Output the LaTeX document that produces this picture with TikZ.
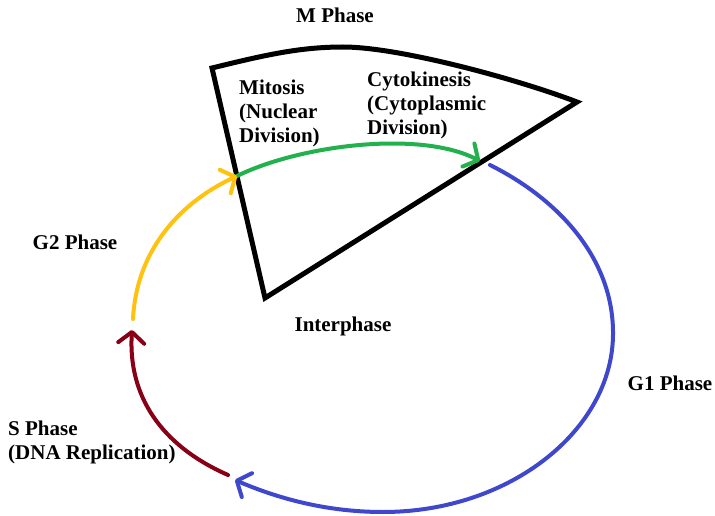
\documentclass[tikz,border=0pt]{standalone}
\usepackage{fontspec}
\setmainfont{Liberation Serif}
\usetikzlibrary{arrows.meta}
\definecolor{paintgreen}{RGB}{34,177,76}
\definecolor{paintgold}{RGB}{255,194,14}
\definecolor{paintblue}{RGB}{63,72,204}
\definecolor{paintbrown}{RGB}{136,0,21}

\begin{document}
\begin{tikzpicture}[x=1pt, y=-1pt,
    lbl/.style={font=\bfseries\fontsize{21}{24}\selectfont, inner sep=0pt},
    phasearc/.style={line width=4pt, line cap=round, -{Straight Barb[round,length=11pt,width=26pt]}}]
    \useasboundingbox (0,0) rectangle (715,516);

    % M Phase wedge
    \coordinate (mleft) at (212,68);
    \coordinate (mtop) at (343,47);
    \coordinate (mright) at (577,102);
    \coordinate (mbottom) at (265,298);
    \draw[line width=5pt, line join=miter] (mleft) .. controls (265,55) and (300,47) .. (mtop)
        .. controls (400,47) and (520,80) .. (mright) -- (mbottom) -- cycle;

    % Points on the cycle
    \coordinate (g2end) at (237,176);
    \coordinate (mend) at (480,161);
    \coordinate (g1start) at (490,165);
    \coordinate (g1side) at (613,335);
    \coordinate (g1low) at (383,512);
    \coordinate (g1end) at (235,480);
    \coordinate (sstart) at (228,475);
    \coordinate (send) at (132,330);
    \coordinate (g2start) at (133,319);

    % Arcs
    \draw[phasearc, paintgreen] (g2end) .. controls (300,145) and (420,130) .. (mend);
    \draw[phasearc, paintblue] (g1start) .. controls (560,200) and (614,260) .. (g1side)
        .. controls (612,430) and (510,512) .. (g1low) .. controls (320,512) and (270,495) .. (g1end);
    \draw[phasearc, paintbrown] (sstart) .. controls (160,445) and (128,395) .. (send);
    \draw[phasearc, paintgold] (g2start) .. controls (136,255) and (175,205) .. (g2end);

    % Labels
    \node[lbl] (mphase) at (335,15) {M Phase};
    \node[lbl, align=left, anchor=west] (mitosis) at (239,113) {Mitosis\\(Nuclear\\Division)};
    \node[lbl, align=left, anchor=west] (cytokinesis) at (367,105) {Cytokinesis\\(Cytoplasmic\\Division)};
    \node[lbl] (g2phase) at (75,242) {G2 Phase};
    \node[lbl] (interphase) at (343,326) {Interphase};
    \node[lbl] (g1phase) at (670,383) {G1 Phase};
    \node[lbl, align=left, anchor=west] (sphase) at (8,442) {S Phase\\(DNA Replication)};
\end{tikzpicture}
\end{document}
